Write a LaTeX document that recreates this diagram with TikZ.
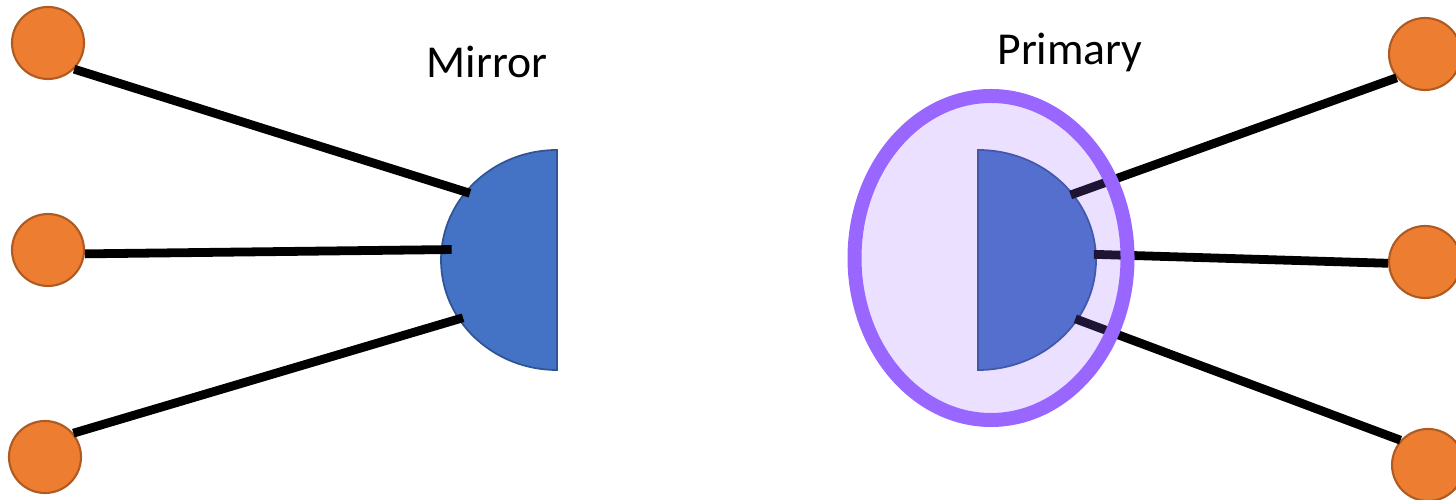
\documentclass[tikz,border=0pt]{standalone}
\usepackage{fontspec}
\setmainfont{Carlito}
\usepackage{tikz}
\usetikzlibrary{positioning,calc}
\definecolor{dotorange}{RGB}{237,125,49}
\definecolor{dotedge}{RGB}{174,90,33}
\definecolor{discblue}{RGB}{68,114,196}
\definecolor{discedge}{RGB}{47,85,151}
\definecolor{ringpurple}{RGB}{153,102,255}

\begin{document}
\begin{tikzpicture}[
  dot/.style={circle, fill=dotorange, draw=dotedge, line width=0.6pt, minimum size=0.72cm, inner sep=0pt},
  link/.style={line width=2.5pt, black},
  disc/.style={fill=discblue, draw=discedge, line width=0.5pt},
  lbl/.style={font=\fontsize{13}{15}\selectfont}
]
\useasboundingbox (0,0) rectangle (14.56,5.00);

\node[lbl] (mirrorlbl) at (4.87, 4.38) {Mirror};
\node[lbl] (primarylbl) at (10.70, 4.48) {Primary};

\coordinate (mc) at (5.57, 2.40);
\coordinate (pc) at (9.78, 2.40);

\draw[disc] (5.57, 3.50) arc[start angle=90, end angle=270, x radius=1.16, y radius=1.10] -- cycle;
\draw[disc] (9.78, 3.50) arc[start angle=90, end angle=-90, x radius=1.18, y radius=1.10] -- cycle;

\coordinate (mtop) at ([shift={(141:1.12 and 1.06)}]mc);
\coordinate (mmid) at ([shift={(174:1.06 and 1.00)}]mc);
\coordinate (mbot) at ([shift={(213:1.12 and 1.06)}]mc);
\coordinate (ptop) at ([shift={(37:1.16 and 1.08)}]pc);
\coordinate (pmid) at ([shift={(3:1.16 and 1.08)}]pc);
\coordinate (pbot) at ([shift={(-33:1.16 and 1.08)}]pc);

\node[dot] (l1) at (0.48, 4.57) {};
\node[dot] (l2) at (0.48, 2.50) {};
\node[dot] (l3) at (0.45, 0.43) {};
\node[dot] (r1) at (14.25, 4.46) {};
\node[dot] (r2) at (14.25, 2.38) {};
\node[dot] (r3) at (14.28, 0.35) {};

\draw[link] (l1.-45) -- (mtop);
\draw[link] (l2.-6) -- (mmid);
\draw[link] (l3.40) -- (mbot);
\draw[link] (r1.220) -- (ptop);
\draw[link] (r2.182) -- (pmid);
\draw[link] (r3.138) -- (pbot);

\draw[ringpurple, line width=0.14cm, fill=ringpurple, fill opacity=0.2, draw opacity=1]
  (9.91, 2.42) ellipse[x radius=1.365, y radius=1.62];

\end{tikzpicture}
\end{document}
